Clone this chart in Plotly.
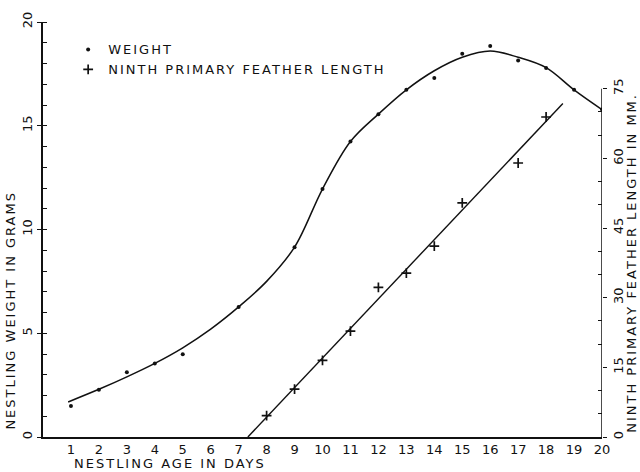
import plotly.graph_objects as go

# Nestling age (days) and observed weights (grams)
weight_days = [1, 2, 3, 4, 5, 7, 9, 10, 11, 12, 13, 14, 15, 16, 17, 18, 19, 20]
weight_g = [1.50, 2.28, 3.12, 3.54, 3.99, 6.27, 9.15, 11.95, 14.24, 15.56,
            16.73, 17.30, 18.47, 18.84, 18.15, 17.78, 16.73, 15.78]

# Hand-fitted growth curve for weight
weight_curve_days = [0.9, 2, 3, 4, 5, 6, 7, 8, 9, 10, 11, 12, 13, 14,
                     15, 16, 17, 18, 19, 20]
weight_curve_g = [1.69, 2.30, 2.90, 3.55, 4.30, 5.20, 6.27, 7.50, 9.15,
                  11.95, 14.24, 15.56, 16.73, 17.65, 18.30, 18.60, 18.30,
                  17.80, 16.73, 15.78]

# Ninth primary feather length (mm)
feather_days = [8, 9, 10, 11, 12, 13, 14, 15, 17, 18]
feather_mm = [4.6, 10.3, 16.5, 22.8, 32.2, 35.3, 41.1, 50.4, 59.0, 68.9]

# Straight-line fit to feather growth
feather_fit_days = [7.33, 18.6]
feather_fit_mm = [0.0, 71.8]

x_ticks = list(range(1, 21))
left_ticks = [0, 5, 10, 15, 20]
right_ticks = [0, 15, 30, 45, 60, 75]
right_minor = [v for v in range(0, 76, 5) if v % 15]

FONT = "DejaVu Sans"
INK = "#111111"

fig = go.Figure()

fig.add_trace(go.Scatter(
    x=weight_curve_days, y=weight_curve_g, mode="lines",
    line=dict(color=INK, width=1.5, shape="spline", smoothing=1.0),
    showlegend=False, hoverinfo="skip"))
fig.add_trace(go.Scatter(
    x=weight_days, y=weight_g, mode="markers", name="WEIGHT",
    marker=dict(color=INK, size=4, symbol="circle")))

fig.add_trace(go.Scatter(
    x=feather_fit_days, y=feather_fit_mm, mode="lines", yaxis="y2",
    line=dict(color=INK, width=1.4), showlegend=False, hoverinfo="skip"))
fig.add_trace(go.Scatter(
    x=feather_days, y=feather_mm, mode="markers", yaxis="y2",
    name="NINTH PRIMARY FEATHER LENGTH",
    marker=dict(color=INK, size=7, symbol="cross-thin",
                line=dict(color=INK, width=1.7))))

# right axis spine only reaches the top labelled value
fig.add_shape(type="line", xref="x", yref="y2", x0=20, x1=20,
              y0=0, y1=right_ticks[-1], line=dict(color=INK, width=1.5))

y2_top = right_ticks[-1] * 417 / 350

fig.update_layout(
    width=640, height=472,
    margin=dict(l=43, r=38, t=20, b=35),
    paper_bgcolor="white", plot_bgcolor="white",
    font=dict(family=FONT, size=13, color=INK),
    xaxis=dict(range=[0, 20], tickvals=x_ticks, ticks="", showgrid=False,
               zeroline=False, showline=True, linecolor=INK, linewidth=1.5,
               tickfont=dict(size=13)),
    yaxis=dict(range=[0, 20], tickvals=left_ticks, ticks="outside", ticklen=4,
               tickcolor=INK, tickwidth=1.2, tickangle=-90, showgrid=False,
               zeroline=False, showline=True, linecolor=INK, linewidth=1.5,
               minor=dict(dtick=1, ticks="inside", ticklen=4,
                          tickcolor=INK, tickwidth=1, showgrid=False)),
    yaxis2=dict(range=[0, y2_top], overlaying="y", side="right",
                tickvals=right_ticks, ticks="outside", ticklen=4,
                tickcolor=INK, tickwidth=1.2, tickangle=-90, showgrid=False,
                zeroline=False, showline=False, ticklabelstandoff=0,
                minor=dict(tickvals=right_minor, ticks="inside", ticklen=4,
                           tickcolor=INK, tickwidth=1, showgrid=False)),
    legend=dict(x=0.045, y=0.97, xanchor="left", yanchor="top",
                bgcolor="rgba(0,0,0,0)", font=dict(size=13),
                itemwidth=30, tracegroupgap=0),
    annotations=[
        dict(text="NESTLING AGE IN DAYS", xref="paper", yref="paper",
             x=(170 - 43) / 559, y=-(464 - 437) / 417, showarrow=False,
             xanchor="center", yanchor="middle", font=dict(size=13)),
        dict(text="NESTLING WEIGHT IN GRAMS", xref="paper", yref="paper",
             x=-(43 - 11) / 559, y=(437 - 310) / 417, showarrow=False,
             xanchor="center", yanchor="middle",
             textangle=-90, font=dict(size=13)),
        dict(text="NINTH PRIMARY FEATHER LENGTH IN MM.", xref="paper",
             yref="paper", x=1 + (632 - 602) / 559, y=(437 - 262) / 417,
             xanchor="center", yanchor="middle",
             showarrow=False, textangle=-90, font=dict(size=13)),
    ],
)

# widen the lettering of titles and legend entries; let the legend
# entries run past the box that was measured before the widening
spacing_js = """
var gd = document.getElementById('{plot_id}');
gd.querySelectorAll('.annotation-text, .legendtext').forEach(function (t) {
    t.style.letterSpacing = '2px';
});
gd.querySelectorAll('.legend [clip-path]').forEach(function (el) {
    el.removeAttribute('clip-path');
});
"""

fig.write_html("out.html", post_script=spacing_js)
